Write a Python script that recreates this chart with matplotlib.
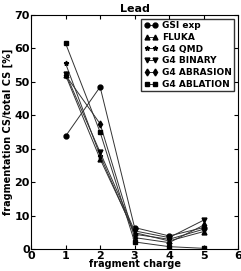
import matplotlib
matplotlib.use('Agg')
import matplotlib.pyplot as plt

charge = [1, 2, 3, 4, 5]
gsi_exp = [33.8, 48.5, 6.5, 4.0, 6.5]
fluka = [52.0, 27.0, 5.0, 2.5, 5.3]
g4_qmd = [55.5, 28.0, 4.5, 3.0, 6.0]
g4_binary = [52.5, 29.0, 5.5, 3.5, 8.7]
g4_abrasion = [52.0, 37.5, 3.5, 2.0, 7.2]
g4_ablation = [61.5, 35.0, 2.2, 0.8, 0.3]

series = [
    ('GSI exp', gsi_exp, 'o'),
    ('FLUKA', fluka, '^'),
    ('G4 QMD', g4_qmd, '*'),
    ('G4 BINARY', g4_binary, 'v'),
    ('G4 ABRASION', g4_abrasion, 'd'),
    ('G4 ABLATION', g4_ablation, 's'),
]

plt.rcParams['font.weight'] = 'bold'
plt.rcParams['axes.labelweight'] = 'bold'

fig = plt.figure(figsize=(2.41, 2.71), dpi=100)
ax = fig.add_axes([0.129, 0.080, 0.859, 0.865])

for name, vals, m in series:
    ax.plot(charge, vals, marker=m, color='#333333', mfc='black', mec='black',
            linewidth=0.7, markersize=3.5, label=name)

ax.set_xlim(0, 6)
ax.set_ylim(0, 70)
ax.set_xticks(range(0, 7))
ax.set_yticks(range(0, 71, 10))
ax.tick_params(direction='in', top=True, right=True, labelsize=8, length=3, pad=1)
ax.set_xlabel('fragment charge', fontsize=7, labelpad=-1)
ax.set_ylabel('fragmentation CS/total CS [%]', fontsize=7, labelpad=1)
ax.set_title('Lead', fontsize=8, fontweight='bold', pad=2)
leg = ax.legend(loc='upper right', fontsize=6.5, numpoints=2, handlelength=1.5,
                borderpad=0.3, labelspacing=0.3, handletextpad=0.5, fancybox=False,
                borderaxespad=0.4)
leg.get_frame().set_edgecolor('black')

fig.savefig('out.png', dpi=100)
